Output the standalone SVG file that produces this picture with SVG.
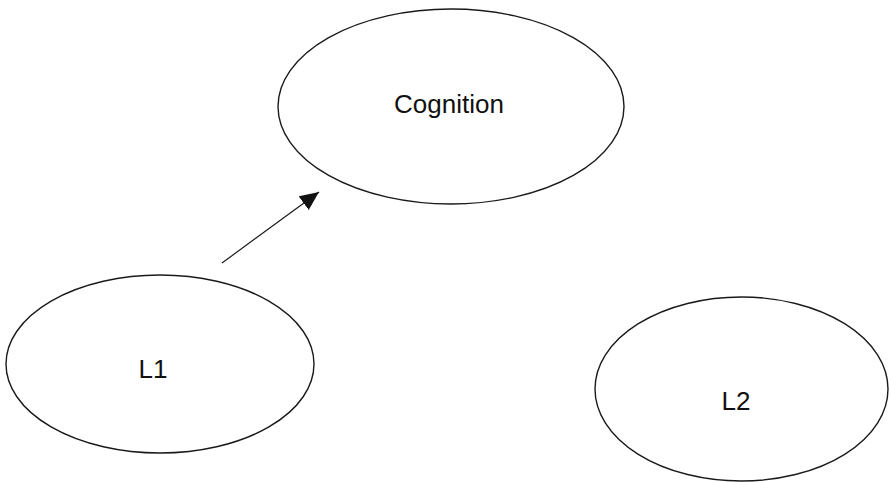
<svg xmlns="http://www.w3.org/2000/svg" width="889" height="482" viewBox="0 0 889 482">
  <defs>
    <style>
      .node ellipse { fill: #ffffff; stroke: #1a1a1a; stroke-width: 1.4; }
      .node text { font-family: "Liberation Sans", Arial, sans-serif; font-size: 26px; fill: #111111; text-anchor: middle; }
      .edge { stroke: #1a1a1a; stroke-width: 1.2; fill: none; }
    </style>
    <marker id="arrowhead" markerUnits="userSpaceOnUse" markerWidth="20" markerHeight="18" refX="19" refY="8.5" orient="auto">
      <path d="M0,0 L19,8.5 L0,17 Z" fill="#111111"/>
    </marker>
  </defs>
  <rect width="889" height="482" fill="#ffffff"/>

  <g id="node-cognition" class="node">
    <ellipse cx="451" cy="106.5" rx="173" ry="97.5"/>
    <text x="449" y="113">Cognition</text>
  </g>

  <g id="node-l1" class="node">
    <ellipse cx="160" cy="364" rx="154" ry="89"/>
    <text x="153" y="378">L1</text>
  </g>

  <g id="node-l2" class="node">
    <ellipse cx="741.5" cy="389" rx="146.5" ry="92"/>
    <text x="736" y="410">L2</text>
  </g>

  <g id="connectors">
    <line class="edge" x1="222" y1="263" x2="319" y2="192" marker-end="url(#arrowhead)"/>
  </g>
</svg>
